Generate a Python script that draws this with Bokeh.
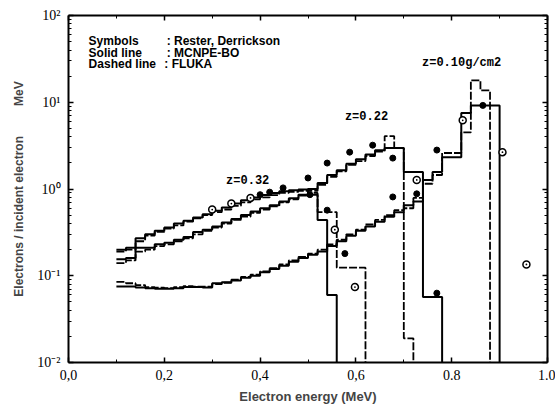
import numpy as np
from bokeh.plotting import figure
from bokeh.models import LogAxis, LinearAxis, FixedTicker, Label, Range1d
from bokeh.embed import file_html
from bokeh.resources import INLINE

# ---------------- data ----------------
BIN_START = 0.10
BIN_WIDTH = 0.02

# z = 0.10 g/cm2
z010_mcnp = [0.075, 0.075, 0.073, 0.072, 0.071, 0.071, 0.072, 0.074, 0.074, 0.073,
             0.082, 0.084, 0.088, 0.095, 0.100, 0.110, 0.120, 0.130, 0.145, 0.160,
             0.175, 0.190, 0.220, 0.250, 0.290, 0.330, 0.370, 0.420, 0.480, 0.540,
             0.650, 0.720, 1.27, 1.57, 2.33, 2.33, 7.5, 9.2, 9.2, 9.2]
z010_fluka = [0.085, 0.082, 0.078, 0.074, 0.073, 0.072, 0.074, 0.076, 0.075, 0.075,
              0.080, 0.083, 0.090, 0.097, 0.103, 0.112, 0.122, 0.135, 0.150, 0.165,
              0.180, 0.200, 0.230, 0.260, 0.300, 0.340, 0.390, 0.440, 0.500, 0.570,
              0.600, 0.790, 1.15, 1.45, 2.6, 2.6, 4.5, 17.9, 13.7]

# z = 0.22 g/cm2
z022_mcnp = [0.155, 0.160, 0.210, 0.210, 0.230, 0.240, 0.260, 0.280, 0.320, 0.340,
             0.370, 0.410, 0.450, 0.500, 0.550, 0.600, 0.650, 0.720, 0.780, 0.860,
             1.00, 1.17, 1.45, 1.65, 1.95, 2.20, 2.50, 2.80, 2.96, 2.96,
             1.57, 1.57, 0.057, 0.057]
z022_fluka = [0.140, 0.150, 0.190, 0.200, 0.220, 0.230, 0.250, 0.270, 0.300, 0.330,
              0.360, 0.400, 0.440, 0.480, 0.530, 0.580, 0.630, 0.700, 0.760, 0.840,
              0.950, 1.12, 1.38, 1.60, 1.90, 2.10, 2.40, 2.70, 4.06, 2.96,
              0.019]

# z = 0.32 g/cm2
z032_mcnp = [0.200, 0.210, 0.270, 0.300, 0.330, 0.360, 0.400, 0.430, 0.470, 0.510,
             0.560, 0.610, 0.680, 0.740, 0.800, 0.850, 0.900, 0.940, 0.970, 0.990,
             0.860, 0.440, 0.060]
z032_fluka = [0.190, 0.200, 0.250, 0.290, 0.320, 0.350, 0.380, 0.420, 0.460, 0.500,
              0.540, 0.580, 0.640, 0.700, 0.760, 0.800, 0.850, 0.900, 0.930, 0.950,
              0.900, 0.540, 0.540, 0.124, 0.124, 0.124]

# Rester, Derrickson measurements
meas_filled_E = [0.40, 0.42, 0.448, 0.50, 0.504, 0.54, 0.54, 0.577, 0.587, 0.635,
                 0.677, 0.677, 0.727, 0.769, 0.769, 0.865]
meas_filled_v = [0.86, 0.92, 1.03, 1.34, 0.86, 1.99, 0.57, 0.18, 2.66, 3.2,
                 2.27, 0.81, 0.88, 2.81, 0.063, 9.2]
meas_open_E = [0.30, 0.34, 0.38, 0.556, 0.598, 0.727, 0.823, 0.906, 0.956]
meas_open_v = [0.58, 0.68, 0.79, 0.34, 0.074, 1.27, 6.2, 2.66, 0.135]

x_ticks = [0.0, 0.2, 0.4, 0.6, 0.8, 1.0]
x_tick_labels = ["0,0", "0,2", "0,4", "0,6", "0.8", "1.0"]
y_ticks = [0.01, 0.1, 1.0, 10.0, 100.0]
y_tick_labels = ["10\u207b\u00b2", "10\u207b\u00b9", "10\u2070", "10\u00b9", "10\u00b2"]

FLOOR = 1e-4  # below the axis: histogram drops to zero


def step_xy(vals):
    n = len(vals)
    edges = [round(BIN_START + BIN_WIDTH * i, 4) for i in range(n + 1)]
    ys = list(vals) + [FLOOR]
    return edges, ys


p = figure(width=555, height=409, x_range=Range1d(0, 1), y_range=Range1d(1e-2, 1e2),
           y_axis_type="log", output_backend="svg", toolbar_location=None,
           min_border_left=68, min_border_right=8, min_border_top=15, min_border_bottom=47,
           background_fill_color="white", border_fill_color="white")
p.grid.visible = False
p.outline_line_color = None

xt = FixedTicker(ticks=x_ticks, minor_ticks=[0.1, 0.3, 0.5, 0.7, 0.9])
minor_y = [m * d for d in [0.01, 0.1, 1, 10] for m in range(2, 10)]
yt = FixedTicker(ticks=y_ticks, minor_ticks=minor_y)


def style(ax, labels=True):
    ax.axis_line_width = 2
    ax.axis_line_color = "black"
    ax.major_tick_in = 5
    ax.major_tick_out = 0
    ax.minor_tick_in = 3
    ax.minor_tick_out = 0
    ax.major_tick_line_width = 1.5
    ax.major_tick_line_color = "black"
    ax.minor_tick_line_color = "black"
    if labels:
        ax.major_label_text_font = "Liberation Serif"
        ax.major_label_text_font_size = "14px"
        ax.major_label_text_color = "black"
    else:
        ax.major_label_text_font_size = "1px"
        ax.major_label_text_color = None
        ax.major_label_standoff = 0


xa = p.xaxis[0]
xa.ticker = xt
style(xa)
xa.major_label_overrides = {t: l for t, l in zip(x_ticks, x_tick_labels)}
xa.major_label_standoff = 7
xa.axis_label = "Electron energy (MeV)"
xa.axis_label_text_font = "Liberation Sans"
xa.axis_label_text_font_style = "bold"
xa.axis_label_text_font_size = "13px"
xa.axis_label_standoff = 6

ya = p.yaxis[0]
ya.ticker = yt
style(ya)
ya.major_label_overrides = {t: l for t, l in zip(y_ticks, y_tick_labels)}
ya.major_label_standoff = 8
ya.axis_label = "Electrons / incident electron" + "\u00a0" * 9 + "MeV"
ya.axis_label_text_font = "Liberation Sans"
ya.axis_label_text_font_style = "bold"
ya.axis_label_text_font_size = "12px"
ya.axis_label_standoff = 8

top = LinearAxis(ticker=xt)
style(top, labels=False)
p.add_layout(top, "above")
right = LogAxis(ticker=yt)
style(right, labels=False)
p.add_layout(right, "right")

# histograms
for vals in [z010_mcnp, z022_mcnp, z032_mcnp]:
    x, y = step_xy(vals)
    p.step(x, y, mode="after", line_color="black", line_width=2)
for vals in [z010_fluka, z022_fluka, z032_fluka]:
    x, y = step_xy(vals)
    p.step(x, y, mode="after", line_color="black", line_width=1.8, line_dash="8 2")

p.scatter(meas_filled_E, meas_filled_v, marker="circle", size=6,
          fill_color="black", line_color="black")
p.scatter(meas_open_E, meas_open_v, marker="circle_dot", size=7,
          fill_color="white", line_color="black", line_width=1.5)


# texts
def lab(x, y, t, font="Liberation Sans", size="12px"):
    p.add_layout(Label(x=x, y=y, text=t, text_font=font, text_font_size=size,
                       text_font_style="bold", text_baseline="middle", text_color="black"))


lab(0.042, 50.2, "Symbols")
lab(0.042, 36.6, "Solid line")
lab(0.042, 27.3, "Dashed line")
lab(0.205, 50.2, ": Rester, Derrickson")
lab(0.205, 36.6, ": MCNPE-BO")
lab(0.200, 27.3, ": FLUKA")

lab(0.738, 28.1, "z=0.10g/cm2", font="Liberation Mono", size="12px")
lab(0.577, 6.73, "z=0.22", font="Liberation Mono", size="12px")
lab(0.329, 1.236, "z=0.32", font="Liberation Mono", size="12px")

open("out.html", "w").write(file_html(p, INLINE))
